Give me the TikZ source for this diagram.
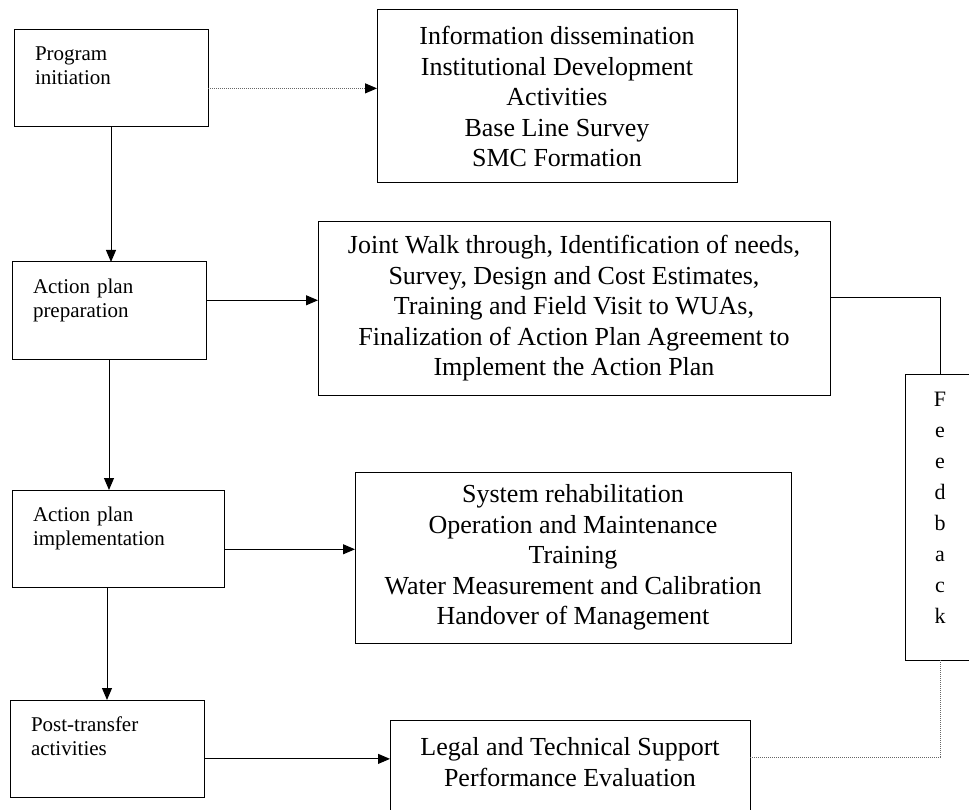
\documentclass[tikz,border=0pt]{standalone}
\usepackage{fontspec}
\setmainfont{Liberation Serif}
\usepackage{tikz}
\usetikzlibrary{calc,arrows.meta}
\def\stageFont{\fontsize{21}{24}\selectfont}
\def\taskFont{\fontsize{26}{30.5}\selectfont}
\def\feedFont{\fontsize{22}{31}\selectfont}
\tikzstyle{arrow} = [line width=1pt,->,>={Triangle[length=12pt,width=10pt,color=black]}]

\begin{document}
\begin{tikzpicture}[x=1pt,y=-1pt,line width=1pt]
    \tikzstyle{stage}=[draw, anchor=north west, align=left, font=\stageFont, inner xsep=21pt, inner ysep=17pt, outer sep=0pt, execute at end node={\rule[-25pt]{0pt}{1pt}}]
    \tikzstyle{task}=[draw, align=center, font=\taskFont, outer sep=0pt]
    \tikzstyle{feed}=[draw, anchor=north, align=center, font=\feedFont, minimum width=70pt, inner ysep=18pt, text depth=19pt, outer sep=0pt]
    \tikzstyle{faint}=[draw=black!60, densely dotted]
    \clip (0,0) rectangle (969,810);

    % Draw the stage boxes on the left
    \node[stage, text width=152pt] (prog) at (14,30) {Program\\initiation};
    \node[stage, text width=152pt] (prep) at (12,262) {Action plan\\preparation};
    \node[stage, text width=170pt] (impl) at (12,490) {Action plan\\implementation};
    \node[stage, text width=152pt] (post) at (10,700) {Post-transfer\\activities};

    % Draw the task boxes on the right
    \node[task, minimum width=360pt, minimum height=173pt] (info) at (557,96.5)
        {Information dissemination\\Institutional Development\\Activities\\Base Line Survey\\SMC Formation};
    \node[task, minimum width=512pt, minimum height=173pt] (plan) at (574,308.5)
        {Joint Walk through, Identification of needs,\\Survey, Design and Cost Estimates,\\Training and Field Visit to WUAs,\\Finalization of Action Plan Agreement to\\Implement the Action Plan};
    \node[task, minimum width=436pt, minimum height=171pt] (works) at (573,557.5)
        {System rehabilitation\\Operation and Maintenance\\Training\\Water Measurement and Calibration\\Handover of Management};
    \node[task, anchor=north, minimum width=360pt, inner ysep=17.5pt, text depth=60pt] (legal) at (570,720)
        {Legal and Technical Support\\Performance Evaluation};

    % Feedback box
    \node[feed] (fb) at (940,374) {F\\e\\e\\d\\b\\a\\c\\k};

    % Main flow
    \draw[arrow] (prog.south) -- (prog.south |- prep.north);
    \draw[arrow] (prep.south) -- (prep.south |- impl.north);
    \draw[arrow] (post.north |- impl.south) -- (post.north);

    % Links to the tasks
    \coordinate (a1) at ([yshift=-10pt]prog.east);
    \coordinate (a2) at ([yshift=10.5pt]prep.east);
    \coordinate (a3) at ([yshift=-10.5pt]impl.east);
    \coordinate (a4) at ([yshift=-10pt]post.east);
    \draw[arrow, faint] (a1) -- (a1 -| info.west);
    \draw[arrow] (a2) -- (a2 -| plan.west);
    \draw[arrow] (a3) -- (a3 -| works.west);
    \draw[arrow] (a4) -- (a4 -| legal.west);

    % Feedback loop
    \coordinate (f1) at ([yshift=10.5pt]plan.east);
    \coordinate (f2) at ([yshift=-37pt]legal.north east);
    \draw (f1) -| (fb.north);
    \draw[faint] (fb.south) |- (f2);
\end{tikzpicture}
\end{document}
